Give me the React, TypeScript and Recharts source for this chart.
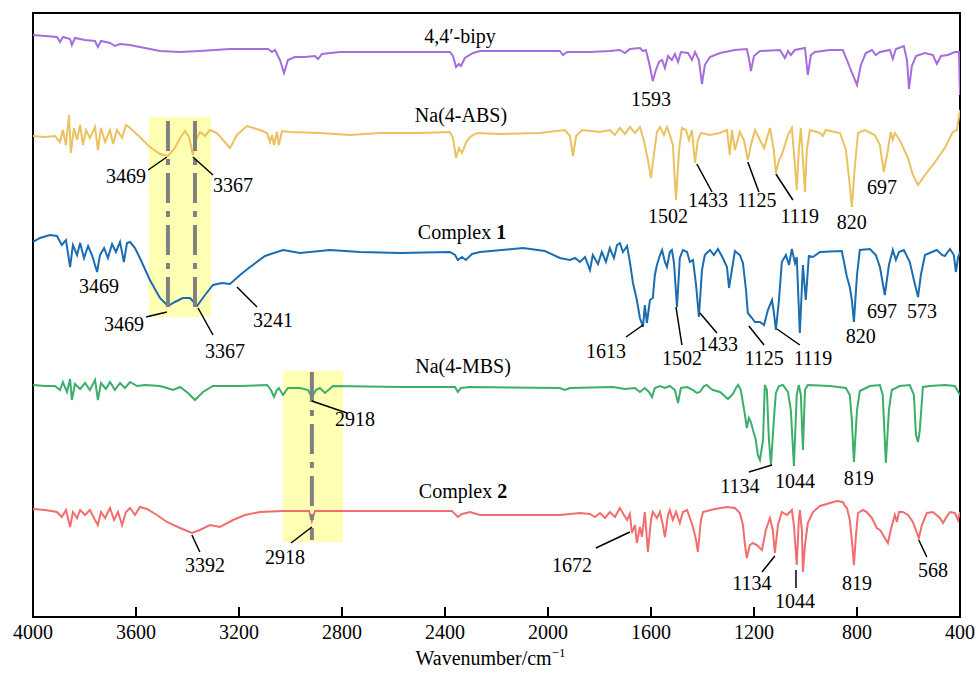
import React from 'react';
import { LineChart, Line, XAxis, YAxis, ReferenceArea, ReferenceLine, ReferenceDot } from 'recharts';

const FONT = '"Liberation Serif", "Times New Roman", Times, serif';

const wavenumberTicks = [4000, 3600, 3200, 2800, 2400, 2000, 1600, 1200, 800, 400];

// [wavenumber (cm-1), stacked transmittance (a.u.)]
const bipyPts = [
  [4000, 58.2], [3953, 58.1], [3907, 58.0], [3895, 57.5], [3884, 58.0], [3856, 57.8], [3849, 57.2], [3837, 57.9],
  [3798, 57.7], [3759, 57.6], [3748, 57.0], [3736, 57.6], [3701, 57.4], [3682, 57.1], [3662, 57.3], [3623, 57.2],
  [3585, 57.0], [3507, 56.6], [3429, 56.5], [3352, 56.6], [3235, 56.8], [3087, 56.8], [3072, 56.5], [3060, 56.7],
  [3041, 55.7], [3025, 54.4], [3010, 55.7], [2983, 56.0], [2944, 56.0], [2905, 56.1], [2893, 55.8], [2878, 56.3],
  [2808, 56.5], [2575, 56.5], [2381, 56.5], [2369, 56.1], [2357, 55.0], [2346, 55.3], [2338, 55.1], [2323, 55.9],
  [2291, 56.4], [2264, 56.6], [1992, 56.6], [1954, 56.6], [1942, 56.2], [1926, 56.5], [1837, 56.5], [1760, 56.6],
  [1721, 56.7], [1701, 56.4], [1682, 56.8], [1643, 56.9], [1631, 56.6], [1620, 56.7], [1608, 55.5], [1593, 53.6],
  [1581, 54.7], [1569, 55.5], [1557, 55.7], [1546, 54.9], [1534, 56.1], [1519, 55.7], [1507, 56.3], [1495, 55.5],
  [1484, 56.5], [1456, 56.4], [1441, 55.7], [1429, 56.5], [1414, 55.7], [1402, 53.3], [1391, 55.2], [1371, 56.0],
  [1332, 56.4], [1274, 56.7], [1228, 56.8], [1220, 55.9], [1212, 54.6], [1200, 56.1], [1177, 56.6], [1099, 56.7],
  [1080, 55.9], [1068, 56.6], [1057, 56.2], [1041, 56.7], [1002, 56.9], [991, 54.2], [979, 56.2], [964, 56.5],
  [905, 56.7], [855, 56.7], [839, 55.7], [824, 54.7], [800, 53.2], [785, 55.2], [766, 56.4], [742, 56.7],
  [727, 56.2], [711, 56.5], [672, 56.7], [661, 55.8], [649, 56.8], [618, 57.1], [606, 55.7], [598, 52.8],
  [587, 55.1], [571, 56.1], [536, 56.4], [505, 56.2], [490, 55.3], [474, 56.1], [447, 56.2], [420, 56.5],
  [404, 56.5], [400, 52.2],
];

const absPts = [
  [4000, 48.1], [3953, 48.0], [3915, 48.1], [3895, 47.5], [3884, 48.7], [3872, 47.2], [3860, 50.2], [3853, 46.4],
  [3841, 48.9], [3829, 47.7], [3817, 49.2], [3806, 47.2], [3794, 48.7], [3779, 47.9], [3759, 49.0], [3748, 46.7],
  [3736, 48.9], [3720, 47.5], [3701, 48.7], [3689, 47.3], [3674, 48.7], [3654, 47.9], [3639, 49.2], [3623, 48.9],
  [3585, 48.0], [3546, 47.0], [3507, 46.3], [3476, 46.1], [3449, 46.9], [3429, 47.9], [3410, 48.6], [3394, 48.0],
  [3379, 46.2], [3367, 47.7], [3352, 48.5], [3332, 48.1], [3313, 48.7], [3286, 48.4], [3262, 47.7], [3235, 46.9],
  [3208, 48.2], [3169, 49.1], [3119, 48.7], [3091, 48.4], [3080, 47.5], [3072, 48.2], [3064, 47.2], [3053, 48.5],
  [3045, 47.2], [3033, 48.6], [3002, 48.5], [2886, 48.4], [2769, 48.2], [2653, 48.4], [2497, 48.4], [2381, 48.5],
  [2369, 47.9], [2357, 45.9], [2346, 46.9], [2334, 46.4], [2319, 47.4], [2303, 48.0], [2276, 48.4], [2187, 48.3],
  [2031, 48.4], [1934, 48.7], [1915, 48.1], [1903, 46.1], [1891, 48.1], [1868, 48.7], [1798, 48.5], [1760, 48.7],
  [1740, 48.2], [1721, 48.9], [1701, 48.3], [1682, 49.0], [1662, 48.4], [1643, 49.0], [1628, 47.7], [1612, 45.7],
  [1600, 43.9], [1589, 46.2], [1577, 48.5], [1565, 49.0], [1550, 48.2], [1538, 49.0], [1527, 48.2], [1515, 47.2],
  [1503, 41.7], [1491, 46.7], [1480, 48.9], [1464, 48.7], [1453, 47.7], [1441, 48.7], [1429, 45.4], [1418, 47.7],
  [1406, 48.4], [1371, 48.2], [1332, 48.4], [1305, 48.7], [1294, 46.2], [1286, 48.7], [1274, 46.7], [1255, 48.5],
  [1239, 47.7], [1224, 45.7], [1212, 47.2], [1196, 48.7], [1177, 47.7], [1161, 46.9], [1138, 48.9], [1123, 46.7],
  [1115, 44.4], [1103, 45.7], [1092, 46.2], [1068, 48.2], [1053, 48.9], [1041, 45.2], [1034, 42.7], [1026, 46.7],
  [1018, 48.9], [1010, 45.7], [1002, 42.5], [995, 46.7], [983, 48.7], [944, 48.4], [933, 48.1], [921, 48.7],
  [866, 48.4], [843, 46.7], [828, 43.2], [820, 41.0], [808, 45.2], [796, 48.4], [769, 48.7], [731, 48.2],
  [711, 47.2], [696, 44.5], [680, 46.7], [669, 48.5], [661, 47.7], [653, 48.4], [634, 47.7], [602, 45.9],
  [583, 44.2], [563, 43.2], [536, 44.2], [497, 45.5], [459, 46.9], [428, 48.5], [412, 48.7], [400, 50.7],
];

const complex1Pts = [
  [4000, 37.5], [3973, 37.9], [3934, 38.2], [3907, 38.1], [3888, 37.2], [3872, 37.7], [3856, 35.0], [3845, 37.2],
  [3829, 36.2], [3817, 37.4], [3802, 35.9], [3786, 37.1], [3771, 36.2], [3751, 34.5], [3740, 36.2], [3724, 36.9],
  [3709, 35.9], [3693, 37.3], [3678, 36.5], [3662, 37.5], [3647, 35.5], [3635, 37.4], [3623, 37.5], [3604, 36.9],
  [3585, 35.9], [3546, 33.7], [3507, 31.9], [3476, 31.1], [3449, 31.5], [3418, 31.9], [3390, 31.9], [3363, 31.1],
  [3332, 32.2], [3301, 33.2], [3266, 33.4], [3235, 33.3], [3196, 34.2], [3157, 35.0], [3099, 36.1], [3029, 36.7],
  [2963, 36.4], [2847, 36.7], [2730, 36.5], [2575, 36.4], [2381, 36.5], [2361, 36.2], [2350, 35.7], [2334, 36.0],
  [2319, 35.7], [2295, 36.3], [2264, 36.5], [2097, 36.9], [2012, 36.6], [1954, 35.9], [1915, 35.7], [1895, 35.9],
  [1876, 35.5], [1856, 36.0], [1837, 34.7], [1826, 36.2], [1806, 35.3], [1791, 36.5], [1775, 35.5], [1760, 36.9],
  [1744, 35.9], [1732, 37.2], [1721, 37.4], [1709, 36.5], [1693, 37.1], [1682, 35.5], [1670, 33.4], [1655, 31.7],
  [1643, 29.9], [1631, 29.0], [1624, 31.2], [1616, 29.4], [1604, 31.7], [1593, 31.9], [1585, 34.2], [1577, 35.2],
  [1565, 36.2], [1557, 36.7], [1546, 35.5], [1538, 35.0], [1527, 36.5], [1519, 36.7], [1511, 35.5], [1499, 31.0],
  [1488, 35.9], [1476, 36.7], [1460, 36.5], [1449, 35.5], [1437, 35.7], [1425, 33.2], [1414, 30.0], [1402, 34.7],
  [1391, 36.2], [1371, 36.7], [1356, 36.2], [1340, 36.8], [1321, 35.9], [1305, 35.0], [1297, 32.9], [1286, 34.7],
  [1274, 36.6], [1255, 36.2], [1243, 35.4], [1231, 32.7], [1224, 30.4], [1208, 29.9], [1196, 29.5], [1177, 29.5],
  [1161, 29.2], [1146, 30.7], [1130, 31.7], [1123, 30.5], [1115, 28.7], [1103, 31.7], [1092, 35.5], [1076, 36.2],
  [1064, 35.2], [1053, 36.8], [1041, 35.4], [1034, 36.0], [1022, 28.4], [1010, 35.2], [999, 31.7], [987, 36.1],
  [971, 36.0], [944, 36.5], [859, 36.6], [839, 34.0], [828, 33.0], [820, 31.7], [812, 29.5], [800, 34.2],
  [789, 36.7], [750, 36.8], [727, 36.2], [711, 35.0], [692, 32.2], [676, 35.2], [661, 36.7], [649, 35.7],
  [637, 36.5], [618, 36.7], [595, 35.5], [579, 33.7], [563, 32.0], [552, 34.2], [536, 36.2], [509, 36.5],
  [490, 36.7], [470, 36.2], [459, 36.1], [439, 36.8], [424, 36.2], [416, 34.5], [408, 35.9], [400, 36.5],
];

const mbsPts = [
  [4000, 23.2], [3953, 23.1], [3915, 23.1], [3895, 22.7], [3884, 23.5], [3868, 22.5], [3856, 23.8], [3849, 21.7],
  [3837, 23.3], [3817, 22.8], [3798, 23.4], [3779, 22.7], [3759, 23.7], [3748, 21.7], [3736, 23.4], [3717, 22.8],
  [3701, 23.5], [3682, 22.7], [3662, 23.4], [3643, 22.9], [3623, 23.5], [3596, 23.1], [3565, 23.2], [3507, 23.1],
  [3480, 22.9], [3456, 22.7], [3429, 23.0], [3398, 22.4], [3371, 21.7], [3340, 22.5], [3301, 23.1], [3196, 23.1],
  [3091, 23.2], [3076, 22.7], [3064, 22.0], [3053, 22.7], [3045, 22.9], [3029, 22.2], [3010, 22.9], [2963, 22.9],
  [2932, 22.7], [2917, 22.0], [2901, 22.7], [2886, 22.9], [2866, 22.4], [2835, 23.1], [2575, 23.0], [2361, 23.0],
  [2350, 22.5], [2338, 22.9], [2303, 23.0], [1954, 22.9], [1934, 22.7], [1915, 22.9], [1748, 23.0], [1701, 22.8],
  [1662, 22.9], [1643, 22.5], [1624, 22.9], [1608, 22.5], [1596, 22.0], [1585, 22.9], [1565, 23.1], [1546, 22.9],
  [1527, 23.1], [1507, 22.7], [1495, 21.4], [1484, 22.9], [1460, 23.0], [1437, 22.7], [1422, 22.4], [1410, 22.5],
  [1394, 23.1], [1383, 23.2], [1371, 22.9], [1360, 22.7], [1332, 22.5], [1301, 21.8], [1282, 22.3], [1270, 22.9],
  [1262, 23.2], [1251, 22.7], [1243, 21.4], [1235, 20.2], [1228, 18.9], [1220, 19.9], [1212, 19.5], [1204, 18.7],
  [1193, 17.7], [1185, 16.2], [1177, 15.7], [1165, 17.7], [1158, 23.2], [1150, 22.7], [1142, 17.7], [1134, 15.2],
  [1123, 19.7], [1115, 22.4], [1103, 23.1], [1088, 23.2], [1068, 22.5], [1057, 20.7], [1045, 15.1], [1034, 22.2],
  [1026, 23.2], [1018, 22.2], [1010, 16.7], [1002, 22.7], [991, 23.2], [905, 23.1], [843, 22.9], [828, 22.2],
  [820, 19.7], [812, 15.5], [800, 20.7], [789, 22.6], [750, 23.1], [711, 23.2], [700, 22.2], [688, 15.4],
  [676, 20.7], [665, 22.7], [634, 23.1], [595, 23.2], [579, 22.2], [571, 18.2], [563, 17.5], [556, 18.7],
  [544, 23.0], [517, 23.1], [459, 23.2], [420, 23.1], [400, 22.2],
];

const complex2Pts = [
  [4000, 10.8], [3953, 10.7], [3907, 10.5], [3888, 10.0], [3872, 10.7], [3856, 9.0], [3845, 10.5], [3829, 9.9],
  [3817, 10.7], [3798, 10.2], [3779, 10.7], [3759, 9.7], [3748, 9.2], [3736, 10.5], [3720, 9.9], [3701, 10.9],
  [3685, 9.7], [3670, 10.5], [3654, 9.2], [3639, 10.5], [3623, 10.9], [3604, 10.2], [3585, 11.0], [3557, 10.8],
  [3519, 10.2], [3480, 9.5], [3429, 8.9], [3383, 8.4], [3352, 8.7], [3313, 9.2], [3274, 9.0], [3223, 9.7],
  [3177, 10.2], [3119, 10.5], [3029, 10.6], [2928, 10.6], [2917, 9.6], [2905, 10.6], [2769, 10.6], [2575, 10.6],
  [2373, 10.6], [2357, 10.2], [2350, 10.0], [2334, 10.3], [2303, 10.5], [2264, 10.2], [1954, 10.2], [1876, 10.4],
  [1837, 10.3], [1818, 10.0], [1798, 10.4], [1779, 9.9], [1760, 10.5], [1740, 10.0], [1721, 10.9], [1705, 10.2],
  [1693, 9.7], [1682, 10.3], [1674, 8.4], [1662, 9.2], [1655, 7.4], [1643, 9.0], [1635, 8.0], [1624, 10.5],
  [1612, 6.5], [1600, 9.7], [1593, 10.5], [1577, 9.9], [1565, 10.5], [1554, 9.2], [1546, 8.0], [1534, 10.2],
  [1527, 10.7], [1515, 9.7], [1503, 10.5], [1488, 9.4], [1476, 10.5], [1460, 10.7], [1449, 9.9], [1437, 9.0],
  [1425, 7.7], [1418, 6.5], [1406, 9.7], [1398, 10.5], [1352, 10.8], [1305, 11.0], [1274, 10.9], [1255, 10.4],
  [1243, 9.2], [1235, 7.2], [1228, 5.9], [1216, 7.2], [1204, 7.4], [1189, 7.2], [1169, 6.7], [1154, 8.7],
  [1138, 9.9], [1127, 8.7], [1119, 6.4], [1107, 9.2], [1092, 10.5], [1072, 10.2], [1053, 10.7], [1045, 9.2],
  [1034, 5.2], [1026, 9.7], [1022, 10.7], [1014, 8.7], [1010, 4.5], [1002, 7.2], [991, 9.4], [971, 10.5],
  [944, 11.1], [905, 11.4], [878, 11.6], [855, 11.5], [847, 11.1], [839, 10.9], [828, 9.7], [820, 7.7],
  [812, 5.2], [804, 8.2], [796, 10.4], [777, 10.7], [762, 10.5], [742, 9.9], [723, 8.9], [711, 8.7],
  [703, 8.4], [692, 7.9], [680, 7.4], [669, 8.7], [653, 10.2], [645, 9.5], [637, 10.5], [622, 10.5],
  [602, 10.2], [583, 9.5], [567, 8.4], [560, 7.9], [548, 9.2], [529, 10.4], [505, 10.5], [478, 9.9],
  [466, 9.4], [455, 9.9], [439, 10.5], [420, 10.4], [408, 9.7], [400, 10.5],
];

const seriesNames = ['4,4′-bipy', 'Na(4-ABS)', 'Complex 1', 'Na(4-MBS)', 'Complex 2'];
const seriesPts = [bipyPts, absPts, complex1Pts, mbsPts, complex2Pts];
const seriesColors = ['#a56edd', '#ecc15f', '#1b6db2', '#3cae6b', '#f26d6d'];

// [plain text, bold numeral, wavenumber, y]
const seriesTitles: [string, string, number, number][] = [
  ['4,4′-bipy', '', 2342, 58.1],
  ['Na(4-ABS)', '', 2338, 50.2],
  ['Complex ', '1', 2334, 38.5],
  ['Na(4-MBS)', '', 2330, 25.1],
  ['Complex ', '2', 2330, 12.6],
];

// [label, wavenumber, y]
const peakLabels: [string, number, number][] = [
  ['1593', 1600, 51.8],
  ['3469', 3639, 44.1], ['3367', 3223, 43.2], ['1502', 1534, 40.1], ['1433', 1379, 41.7],
  ['1125', 1189, 41.7], ['1119', 1022, 40.1], ['820', 820, 39.5], ['697', 703, 43.0],
  ['3469', 3744, 33.1], ['3469', 3647, 29.3], ['3367', 3254, 26.6], ['3241', 3068, 29.7],
  ['1613', 1775, 26.6], ['1502', 1480, 25.9], ['1433', 1340, 27.3], ['1125', 1161, 25.9],
  ['1119', 971, 25.9], ['820', 785, 28.1], ['697', 703, 30.6], ['573', 548, 30.6],
  ['2918', 2750, 19.8], ['1134', 1255, 13.1], ['1044', 1041, 13.6], ['819', 793, 13.9],
  ['3392', 3332, 5.2], ['2918', 3021, 6.0], ['1672', 1907, 5.2], ['1134', 1208, 3.4],
  ['1044', 1041, 1.6], ['819', 800, 3.4], ['568', 505, 4.7],
];

// leader lines [wn1, y1, wn2, y2]
const leaders: [number, number, number, number][] = [
  [3553, 44.7, 3480, 46.0], [3379, 46.0, 3301, 44.2], [1422, 45.3, 1363, 42.5], [1224, 45.5, 1181, 42.5],
  [1115, 44.3, 1049, 41.7],
  [3561, 30.0, 3480, 30.5], [3359, 30.9, 3301, 28.2], [3208, 33.0, 3130, 31.0], [1697, 28.0, 1631, 29.2],
  [1503, 31.0, 1480, 27.2], [1410, 30.4, 1344, 28.4], [1220, 29.1, 1161, 27.2], [1111, 28.8, 1022, 27.2],
  [2917, 21.6, 2781, 20.4], [1220, 14.5, 1130, 15.2],
  [3383, 8.2, 3352, 6.5], [2917, 9.0, 2998, 7.4], [1814, 6.9, 1682, 8.5], [1169, 4.5, 1119, 6.1],
  [1037, 4.7, 1037, 2.9], [560, 7.7, 529, 6.0],
];

// highlighted bands [wn1, wn2, y1, y2]
const bands: [number, number, number, number][] = [
  [3550, 3309, 30.0, 50.0],
  [3029, 2796, 7.5, 24.6],
];

// dash-dot markers [wn, yTop, yBottom]
const markers: [number, number, number][] = [
  [3476, 49.6, 31.0],
  [3371, 49.6, 31.0],
  [2917, 24.5, 7.7],
];

const toRows = (pts: number[][]) => pts.map(([wn, t]) => ({ wn, t }));

function WnTick({ x, y, payload }: any) {
  return (
    <g>
      <line x1={x} y1={y} x2={x} y2={y - 10} stroke="#000" strokeWidth={2} />
      <text x={x} y={y + 22} textAnchor="middle" fontFamily={FONT} fontSize={20} fill="#000">
        {payload.value}
      </text>
    </g>
  );
}

function AxisTitle(props: any) {
  const vb = props.viewBox || { x: 33, y: 617, width: 927 };
  return (
    <text x={vb.x + vb.width / 2 - 6} y={vb.y + 48} textAnchor="middle" fontFamily={FONT} fontSize={20} fill="#000">
      Wavenumber/cm<tspan dy={-8} fontSize={13}>−1</tspan>
    </text>
  );
}

export default function App() {
  return (
    <div style={{ position: 'absolute', left: 0, top: 0, width: 976, height: 676, background: '#fff' }}>
      <LineChart width={976} height={676} margin={{ top: 13, right: 16, bottom: 9, left: 33 }}>
        <XAxis
          dataKey="wn"
          type="number"
          domain={[400, 4000]}
          reversed
          ticks={wavenumberTicks}
          interval={0}
          height={50}
          axisLine={false}
          tickLine={false}
          tickSize={0}
          tickMargin={0}
          tick={<WnTick />}
          allowDataOverflow
          label={{ content: (p: any) => <AxisTitle {...p} /> }}
        />
        <YAxis type="number" domain={[0, 60.4]} hide allowDataOverflow />
        {bands.map(([a, b, y1, y2], i) => (
          <ReferenceArea key={'b' + i} x1={a} x2={b} y1={y1} y2={y2} fill="#ffffb3" fillOpacity={1} stroke="none" ifOverflow="visible" />
        ))}
        {seriesPts.map((pts, i) => (
          <Line
            key={seriesNames[i]}
            name={seriesNames[i]}
            data={toRows(pts)}
            dataKey="t"
            type="linear"
            stroke={seriesColors[i]}
            strokeWidth={2}
            dot={false}
            isAnimationActive={false}
          />
        ))}
        {markers.map(([wn, y1, y2], i) => (
          <ReferenceLine
            key={'m' + i}
            segment={[{ x: wn, y: y1 }, { x: wn, y: y2 }]}
            stroke="#808080"
            strokeWidth={4}
            strokeDasharray="30 8 6 8"
            ifOverflow="visible"
          />
        ))}
        {leaders.map(([a, y1, b, y2], i) => (
          <ReferenceLine
            key={'l' + i}
            segment={[{ x: a, y: y1 }, { x: b, y: y2 }]}
            stroke="#000"
            strokeWidth={1.5}
            ifOverflow="visible"
          />
        ))}
        {peakLabels.map(([txt, wn, y], i) => (
          <ReferenceDot
            key={'p' + i}
            x={wn}
            y={y}
            r={1}
            ifOverflow="visible"
            shape={(p: any) => (
              <text x={p.cx} y={p.cy} dy="0.35em" textAnchor="middle" fontFamily={FONT} fontSize={20} fill="#000">
                {txt}
              </text>
            )}
          />
        ))}
        {seriesTitles.map(([txt, bold, wn, y], i) => (
          <ReferenceDot
            key={'s' + i}
            x={wn}
            y={y}
            r={1}
            ifOverflow="visible"
            shape={(p: any) => (
              <text x={p.cx} y={p.cy} dy="0.35em" textAnchor="middle" fontFamily={FONT} fontSize={20} fill="#000">
                {txt}
                {bold ? <tspan fontWeight="bold">{bold}</tspan> : null}
              </text>
            )}
          />
        ))}
        <ReferenceArea x1={4000} x2={400} y1={0} y2={60.4} fill="none" stroke="#000" strokeWidth={2} ifOverflow="visible" />
      </LineChart>
    </div>
  );
}
